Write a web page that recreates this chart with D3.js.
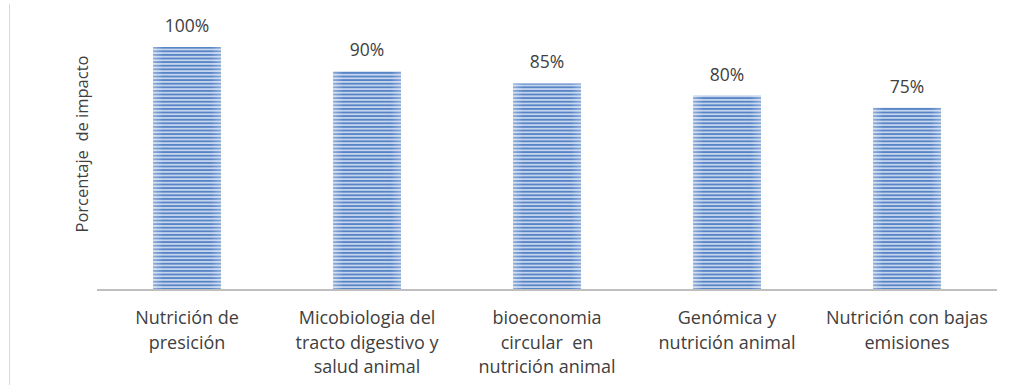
<!DOCTYPE html>
<html>
<head>
<meta charset="utf-8">
<script src="https://cdn.jsdelivr.net/npm/d3@7"></script>
<style>
  html, body { margin: 0; padding: 0; background: #fff; }
  svg { display: block; }
  text { font-family: "Open Sans", "Liberation Sans", sans-serif; fill: #404040; }
</style>
</head>
<body>
<svg id="chart" width="1016" height="388"></svg>
<script>
const categories = [
  ["Nutrición de", "presición"],
  ["Micobiologia del", "tracto digestivo y", "salud animal"],
  ["bioeconomia", "circular  en", "nutrición animal"],
  ["Genómica y", "nutrición animal"],
  ["Nutrición con bajas", "emisiones"]
];
const values = [100, 90, 85, 80, 75];
const valueLabels = ["100%", "90%", "85%", "80%", "75%"];
const yTitle = "Porcentaje  de impacto";

const svg = d3.select("#chart");
const x0 = 97, x1 = 997, yBase = 290, yTop = 47;

const x = d3.scaleBand().domain(d3.range(categories.length)).range([x0, x1]).paddingInner(0.622).paddingOuter(0.311);
const y = d3.scaleLinear().domain([0, 100]).range([yBase, yTop]);

const defs = svg.append("defs");
const pat = defs.append("pattern").attr("id", "stripes").attr("patternUnits", "userSpaceOnUse")
  .attr("width", 8).attr("height", 3.6);
pat.append("rect").attr("width", 8).attr("height", 3.6).attr("fill", "#c4d4ed");
pat.append("rect").attr("y", 0).attr("width", 8).attr("height", 1.8).attr("fill", "#5784c6");

const grad = defs.append("linearGradient").attr("id", "shade").attr("x1", 0).attr("x2", 1).attr("y1", 0).attr("y2", 0);
grad.append("stop").attr("offset", "0%").attr("stop-color", "#ffffff").attr("stop-opacity", 0.35);
grad.append("stop").attr("offset", "15%").attr("stop-color", "#ffffff").attr("stop-opacity", 0);
grad.append("stop").attr("offset", "85%").attr("stop-color", "#ffffff").attr("stop-opacity", 0);
grad.append("stop").attr("offset", "100%").attr("stop-color", "#ffffff").attr("stop-opacity", 0.3);

// outer border line on the left
svg.append("line").attr("x1", 9.5).attr("x2", 9.5).attr("y1", 4).attr("y2", 385)
  .attr("stroke", "#d9d9d9").attr("stroke-width", 1);

// bars
const bars = svg.append("g");
bars.selectAll("rect.bar").data(values).join("rect").attr("class", "bar")
  .attr("x", (d, i) => x(i)).attr("width", x.bandwidth())
  .attr("y", d => y(d)).attr("height", d => y(0) - y(d))
  .attr("fill", "url(#stripes)");
bars.selectAll("rect.shade").data(values).join("rect").attr("class", "shade")
  .attr("x", (d, i) => x(i)).attr("width", x.bandwidth())
  .attr("y", d => y(d)).attr("height", d => y(0) - y(d))
  .attr("fill", "url(#shade)");

// x axis
const xAxis = d3.axisBottom(x).tickSize(0).tickFormat("");
const gx = svg.append("g").attr("transform", `translate(0,${yBase})`).call(xAxis);
gx.select(".domain").attr("stroke", "#bfbfbf").attr("stroke-width", 2).attr("d", `M${x0},0H${x1}`);

// category labels
const lab = svg.append("g");
categories.forEach((lines, i) => {
  const cx = x(i) + x.bandwidth() / 2;
  const t = lab.append("text").attr("text-anchor", "middle").attr("font-size", 18)
    .attr("x", cx).attr("y", 324).style("white-space", "pre");
  lines.forEach((ln, j) => {
    t.append("tspan").attr("x", cx).attr("dy", j === 0 ? 0 : 24.5).text(ln);
  });
});

// value labels
svg.append("g").selectAll("text").data(values).join("text")
  .attr("text-anchor", "middle").attr("font-size", 17.5)
  .attr("x", (d, i) => x(i) + x.bandwidth() / 2)
  .attr("y", d => y(d) - 15)
  .text((d, i) => valueLabels[i]);

// y title
svg.append("text").attr("transform", "translate(88,144) rotate(-90)")
  .attr("text-anchor", "middle").attr("font-size", 16.5).style("white-space", "pre")
  .text(yTitle);
</script>
</body>
</html>
